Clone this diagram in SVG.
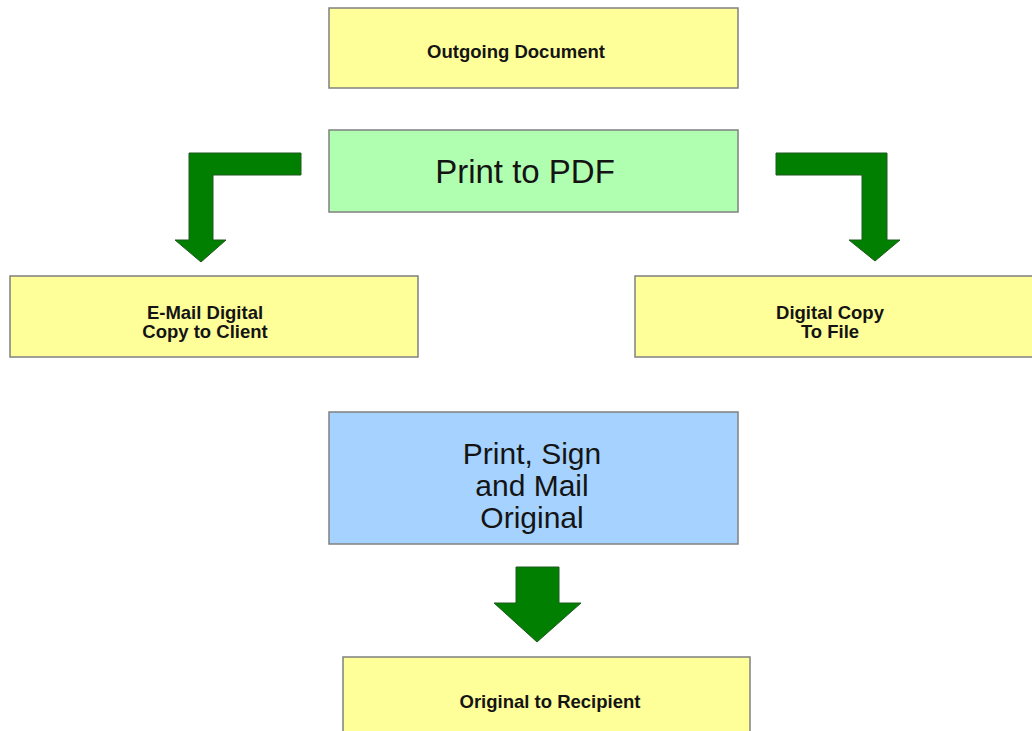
<svg xmlns="http://www.w3.org/2000/svg" width="1032" height="731" viewBox="0 0 1032 731">
<style>
.box{stroke:#808080;stroke-width:1.5}
.y{fill:#ffff99}
.g{fill:#b0ffb0}
.b{fill:#a6d2ff}
.sm{font-family:"Liberation Sans",Arial,sans-serif;font-size:18.5px;font-weight:bold;fill:#141414;text-anchor:middle}
.lg{font-family:"Liberation Sans",Arial,sans-serif;font-size:33px;fill:#141414;text-anchor:middle}
.ml{font-family:"Liberation Sans",Arial,sans-serif;font-size:30px;fill:#141414;text-anchor:middle}
.arrow{fill:#007f00;stroke:#1f5a1f;stroke-width:1}
</style>
<rect width="1032" height="731" fill="#ffffff"/>
<g id="connectors">
<polygon class="arrow" points="301,153 189,153 189,240 175,240 201,262 226,240 213,240 213,175 301,175"/>
<polygon class="arrow" points="776,153 887,153 887,240 900,240 875,261 849,240 862,240 862,175 776,175"/>
<polygon class="arrow" points="516,567 559,567 559,603 581,603 537,642 494,603 516,603"/>
</g>
<g id="outgoing">
<rect class="box y" x="329" y="8" width="409" height="80"/>
<text class="sm" x="516" y="58">Outgoing Document</text>
</g>
<g id="print-pdf">
<rect class="box g" x="329" y="130" width="409" height="82"/>
<text class="lg" x="525" y="183">Print to PDF</text>
</g>
<g id="email">
<rect class="box y" x="10" y="276" width="408" height="81"/>
<text class="sm" x="205" y="319">E-Mail Digital</text>
<text class="sm" x="205" y="338">Copy to Client</text>
</g>
<g id="file">
<rect class="box y" x="635" y="276" width="400" height="81"/>
<text class="sm" x="830" y="319">Digital Copy</text>
<text class="sm" x="830" y="338">To File</text>
</g>
<g id="print-sign">
<rect class="box b" x="329" y="412" width="409" height="132"/>
<text class="ml" x="532" y="464">Print, Sign</text>
<text class="ml" x="532" y="496">and Mail</text>
<text class="ml" x="532" y="528">Original</text>
</g>
<g id="recipient">
<rect class="box y" x="343" y="657" width="407" height="80"/>
<text class="sm" x="550" y="708">Original to Recipient</text>
</g>
</svg>
